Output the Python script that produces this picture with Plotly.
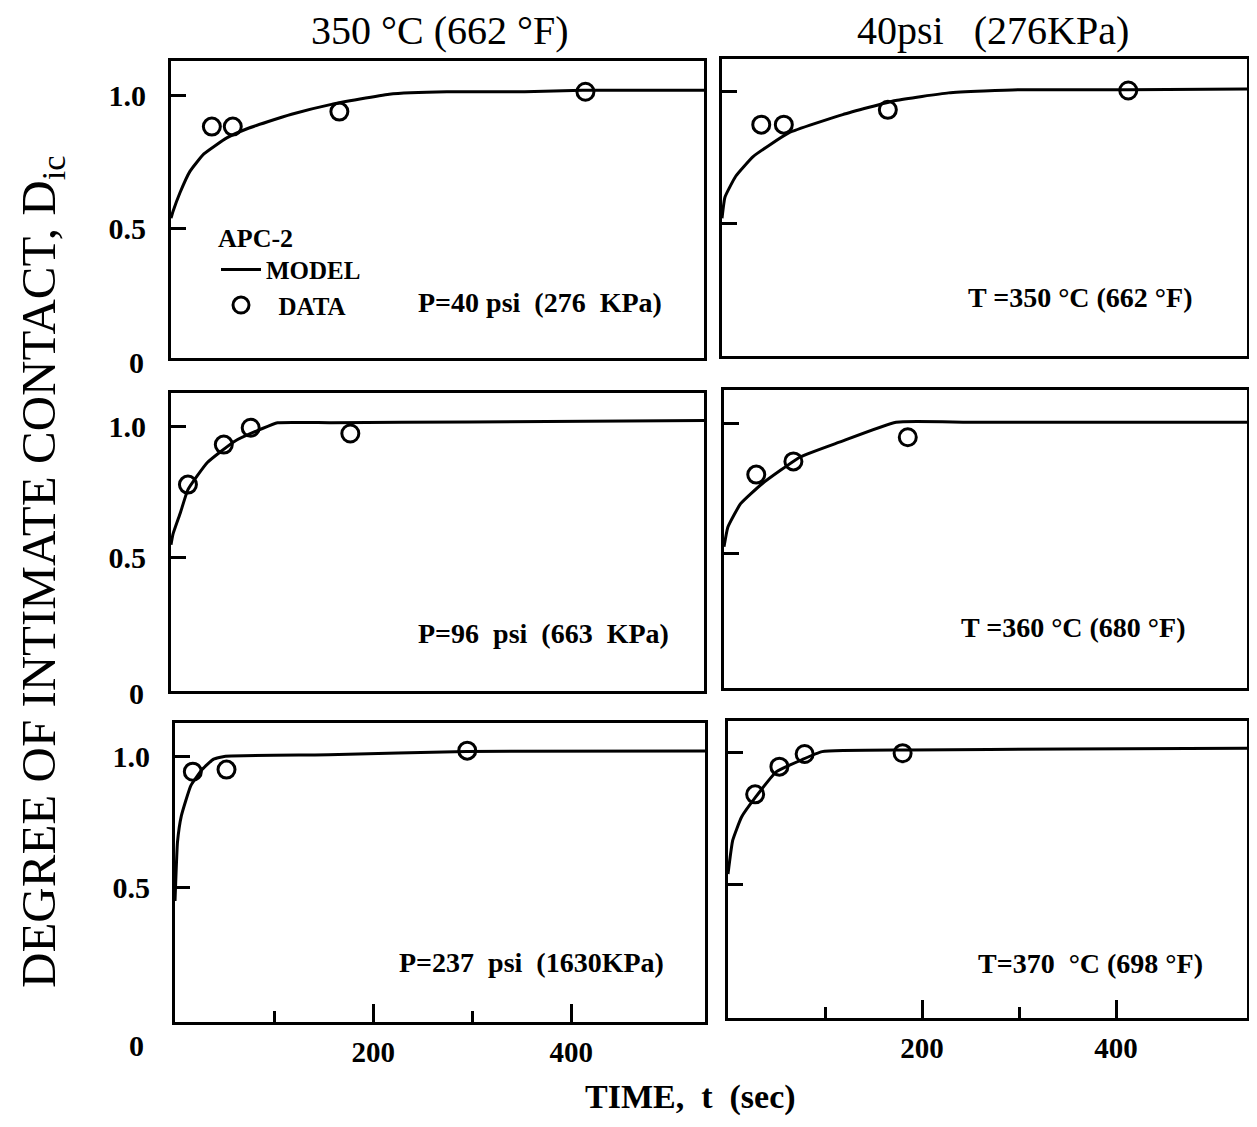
import plotly.graph_objects as go

REF_W, REF_H = 1257, 1127
OFF = 8                      # default page body margin in the browser
FW, FH = REF_W - 2 * OFF, REF_H - 2 * OFF   # keep page from overflowing
SERIF = "Liberation Serif"

# ---------------- data ----------------
# Top-left: 350 C, P = 40 psi
tl_model_t = [0, 2, 9, 19, 33, 56, 77, 97, 121, 161, 219, 277, 355, 413, 535]
tl_model_d = [0.54, 0.565, 0.635, 0.715, 0.78, 0.84, 0.875, 0.9, 0.928, 0.965, 1.003, 1.012, 1.012, 1.018, 1.018]
tl_data_t = [41, 62, 169, 416]
tl_data_d = [0.882, 0.882, 0.938, 1.012]

# Top-right: 40 psi, T = 350 C
tr_model_t = [0, 3, 14, 32, 68, 123, 177, 231, 304, 413, 535]
tr_model_d = [0.52, 0.6, 0.679, 0.754, 0.843, 0.912, 0.965, 0.994, 1.006, 1.006, 1.009]
tr_data_t = [40, 63, 169, 414]
tr_data_d = [0.874, 0.874, 0.93, 1.003]

# Middle-left: P = 96 psi
ml_model_t = [0, 2, 9.5, 17, 36.5, 64, 91, 107, 161, 300, 535]
ml_model_d = [0.55, 0.59, 0.672, 0.759, 0.862, 0.943, 0.99, 1.013, 1.013, 1.016, 1.022]
ml_data_t = [17, 53, 80, 180]
ml_data_d = [0.778, 0.93, 0.994, 0.972]

# Middle-right: T = 360 C
mr_model_t = [0, 4, 17, 39, 78, 118, 176, 250, 400, 535]
mr_model_d = [0.526, 0.602, 0.692, 0.769, 0.872, 0.929, 1.006, 1.006, 1.006, 1.006]
mr_data_t = [33, 71, 188]
mr_data_d = [0.804, 0.855, 0.948]

# Bottom-left: P = 237 psi
bl_model_t = [0, 0.5, 2.5, 6.4, 16, 27.6, 39, 51, 155, 294, 535]
bl_model_d = [0.45, 0.5, 0.673, 0.773, 0.888, 0.95, 0.989, 1.0, 1.005, 1.018, 1.02]
bl_data_t = [18, 52, 295]
bl_data_d = [0.941, 0.949, 1.021]

# Bottom-right: T = 370 C
br_model_t = [0, 4.9, 14, 28.6, 50, 75.4, 97, 187, 350, 535]
br_model_d = [0.54, 0.668, 0.756, 0.832, 0.928, 0.972, 1.004, 1.01, 1.014, 1.017]
br_data_t = [28, 53, 79, 180]
br_data_d = [0.842, 0.947, 0.995, 0.998]

panel_labels = ["P=40 psi  (276  KPa)", "T =350 °C (662 °F)",
                "P=96  psi  (663  KPa)", "T =360 °C (680 °F)",
                "P=237  psi  (1630KPa)", "T=370  °C (698 °F)"]
column_titles = ["350 °C (662 °F)", "40psi   (276KPa)"]
y_title = "DEGREE OF INTIMATE CONTACT, D<sub>ic</sub>"
x_title = "TIME,  t  (sec)"
x_major = [200, 400]
x_major_text = ["200", "400"]
x_minor = [100, 300]
y_ticks = [0.5, 1.0]
y_tick_text = ["0.5", "1.0"]
y_zero_text = "0"
legend_title = "APC-2"

# ---------------- layout (pixel boxes in reference coordinates) ----------------
panels = [
    dict(t=tl_model_t, d=tl_model_d, dt=tl_data_t, dd=tl_data_d, box=(171, 704, 61, 358), yr=(0.018, 1.127), lab=(540, 303), left=True, bottom=False),
    dict(t=tr_model_t, d=tr_model_d, dt=tr_data_t, dd=tr_data_d, box=(722, 1247, 59, 356), yr=(0.0, 1.122), lab=(1080, 297), left=False, bottom=False),
    dict(t=ml_model_t, d=ml_model_d, dt=ml_data_t, dd=ml_data_d, box=(171, 704, 393, 691), yr=(-0.006, 1.126), lab=(543, 633), left=True, bottom=False),
    dict(t=mr_model_t, d=mr_model_d, dt=mr_data_t, dd=mr_data_d, box=(724, 1247, 390, 688), yr=(-0.018, 1.13), lab=(1073, 627), left=False, bottom=False),
    dict(t=bl_model_t, d=bl_model_d, dt=bl_data_t, dd=bl_data_d, box=(175, 705, 723, 1022), yr=(-0.01, 1.126), lab=(531, 962), left=True, bottom=True),
    dict(t=br_model_t, d=br_model_d, dt=br_data_t, dd=br_data_d, box=(728, 1247, 721, 1018), yr=(-0.006, 1.12), lab=(1090, 963), left=False, bottom=True),
]
zero_label_pos = [(136, 362), (136, 693), (136, 1045)]

fig = go.Figure()
annotations = []

def px(x):
    return (x - OFF) / FW

def py(y):
    return 1 - (y - OFF) / FH

for i, p in enumerate(panels):
    k = "" if i == 0 else str(i + 1)
    xa, ya = "x" + k, "y" + k
    fig.add_trace(go.Scatter(
        x=p["t"], y=p["d"], mode="lines", name="MODEL", legendrank=1,
        line=dict(color="black", width=3, shape="spline", smoothing=0.4),
        xaxis=xa, yaxis=ya, showlegend=(i == 0), hoverinfo="skip"))
    fig.add_trace(go.Scatter(
        x=p["dt"], y=p["dd"], mode="markers", name="  DATA", legendrank=2,
        marker=dict(symbol="circle-open", size=17, color="black", line=dict(width=3)),
        xaxis=xa, yaxis=ya, showlegend=(i == 0), hoverinfo="skip"))

    x0, x1, y0, y1 = p["box"]
    xax = dict(
        domain=[px(x0), px(x1)], range=[0, 535], anchor=ya,
        showline=True, mirror=True, linecolor="black", linewidth=3,
        showgrid=False, zeroline=False,
    )
    if p["bottom"]:
        xax.update(ticks="inside", tickvals=x_major, ticktext=x_major_text,
                   ticklen=18, tickwidth=3, tickcolor="black",
                   showticklabels=True, ticklabelstandoff=2,
                   tickfont=dict(family=SERIF, size=29, color="black", weight="bold"),
                   minor=dict(tickvals=x_minor, ticks="inside", ticklen=11, tickwidth=3, tickcolor="black"))
    else:
        xax.update(ticks="", showticklabels=False)

    yax = dict(
        domain=[py(y1), py(y0)], range=list(p["yr"]), anchor=xa,
        showline=True, mirror=True, linecolor="black", linewidth=3,
        showgrid=False, zeroline=False,
        ticks="inside", tickvals=y_ticks, ticktext=y_tick_text, ticklen=15, tickwidth=3, tickcolor="black",
        showticklabels=p["left"], ticklabelstandoff=16,
        tickfont=dict(family=SERIF, size=30, color="black", weight="bold"),
    )
    fig.layout["xaxis" + k] = xax
    fig.layout["yaxis" + k] = yax

    annotations.append(dict(
        text=panel_labels[i], xref="paper", yref="paper",
        x=px(p["lab"][0]), y=py(p["lab"][1]), xanchor="center", yanchor="middle",
        showarrow=False, font=dict(family=SERIF, size=28, color="black", weight="bold")))

# "0" labels of the left column
for zx, zy in zero_label_pos:
    annotations.append(dict(text=y_zero_text, xref="paper", yref="paper", x=px(zx), y=py(zy),
                            xanchor="center", yanchor="middle", showarrow=False,
                            font=dict(family=SERIF, size=30, color="black", weight="bold")))
# column titles
for txt, cx in zip(column_titles, [440, 993]):
    annotations.append(dict(text=txt, xref="paper", yref="paper", x=px(cx), y=py(30),
                            xanchor="center", yanchor="middle", showarrow=False,
                            font=dict(family=SERIF, size=40, color="black")))
# axis titles
annotations.append(dict(text=y_title, xref="paper", yref="paper", x=px(41), y=py(572),
                        xanchor="center", yanchor="middle", textangle=-90, showarrow=False,
                        font=dict(family=SERIF, size=49, color="black")))
annotations.append(dict(text=x_title, xref="paper", yref="paper", x=px(690), y=py(1118),
                        xanchor="center", yanchor="bottom", showarrow=False,
                        font=dict(family=SERIF, size=34, color="black", weight="bold")))

fig.update_layout(
    width=FW, height=FH,
    margin=dict(l=0, r=0, t=0, b=0),
    paper_bgcolor="white", plot_bgcolor="white",
    annotations=annotations,
    showlegend=True,
    legend=dict(
        x=px(216), y=py(213), xanchor="left", yanchor="top",
        bgcolor="rgba(0,0,0,0)", borderwidth=0,
        title=dict(text=legend_title, side="top",
                   font=dict(family=SERIF, size=26, color="black", weight="bold")),
        font=dict(family=SERIF, size=25, color="black", weight="bold"),
        itemwidth=40, tracegroupgap=0,
    ),
)

fig.write_html("out.html")
